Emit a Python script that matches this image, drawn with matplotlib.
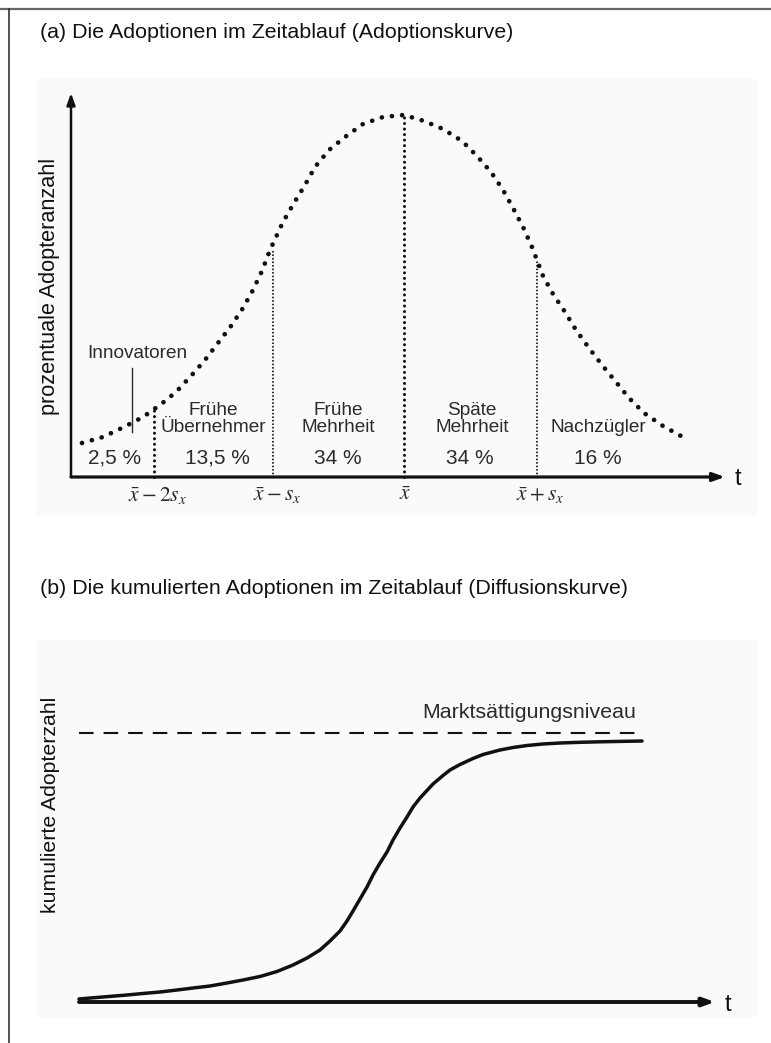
import matplotlib
matplotlib.use('Agg')
import matplotlib.pyplot as plt
from matplotlib import font_manager
from matplotlib.lines import Line2D

# font: narrow sans if present, otherwise regular
names = set(f.name for f in font_manager.fontManager.ttflist)
narrow = 'Liberation Sans Narrow' in names
plt.rcParams['font.family'] = ['Liberation Sans Narrow' if narrow else 'Liberation Sans', 'DejaVu Sans']
plt.rcParams['mathtext.fontset'] = 'stix'

# ---- (a) Adoptionskurve: time (arbitrary units) / relative adopter count
curve_t = [1.1, 3.2, 5.3, 7.2, 8.9, 10.5, 12.0, 13.4, 14.7, 16.0, 17.2, 18.2, 19.1, 19.9,
           21.2, 22.3, 23.4, 24.4, 25.8, 27.4, 29.2, 31.2, 33.3, 35.3, 37.2, 39.1, 40.6,
           42.0, 43.2, 44.2, 45.2, 46.1, 47.2, 48.2, 49.4, 50.5, 51.8, 53.1, 54.5, 55.8,
           57.3, 59.2, 61.0]
curve_y = [3.4, 4.0, 5.0, 6.0, 7.2, 8.5, 10.1, 11.7, 13.4, 15.1, 16.9, 18.7, 20.6, 22.7,
           25.5, 27.4, 29.2, 31.0, 32.7, 34.0, 35.3, 36.0, 36.2, 35.6, 34.8, 33.6, 32.1,
           30.5, 28.7, 26.9, 25.0, 23.0, 20.1, 18.3, 16.5, 14.7, 12.9, 11.2, 9.5, 7.9,
           6.4, 5.1, 4.1]

bounds_t = [8.3, 20.2, 33.3, 46.6]
bounds_top = [6.9, 22.7, 36.2, 21.7]
bounds_lw = [2.2, 1.4, 2.2, 1.4]
bound_labels = [r'$\bar{x}-2s_x$', r'$\bar{x}-s_x$', r'$\bar{x}$', r'$\bar{x}+s_x$']
bound_label_t = [8.6, 20.6, 33.4, 46.9]

groups = ['', 'Frühe\nÜbernehmer', 'Frühe\nMehrheit', 'Späte\nMehrheit', 'Nachzügler']
group_t = [4.4, 14.2, 26.7, 40.1, 52.7]
group_y = [5.8, 5.8, 5.8, 5.8, 4.9]
shares = ['2,5 %', '13,5 %', '34 %', '34 %', '16 %']
share_t = [4.4, 14.6, 26.7, 39.9, 52.7]

# ---- (b) Diffusionskurve: time / cumulated adopters
cum_t = [0.0, 1.4, 3.1, 4.8, 6.4, 8.1, 9.8, 11.4, 13.1, 14.8, 16.4, 18.1, 19.8, 21.4,
         22.8, 24.1, 25.1, 26.1, 26.8, 27.4, 28.1, 28.8, 29.4, 30.1, 30.8, 31.4, 32.1,
         32.8, 33.4, 34.1, 35.4, 36.4, 37.1, 38.1, 39.4, 40.4, 42.1, 43.4, 44.8, 46.4,
         48.1, 50.1, 52.1, 54.1, 56.3]
cum_y = [0.3, 0.42, 0.56, 0.7, 0.85, 1.0, 1.2, 1.4, 1.6, 1.9, 2.2, 2.55, 3.05, 3.7,
         4.4, 5.2, 6.1, 7.1, 8.1, 9.1, 10.3, 11.5, 12.7, 13.9, 15.0, 16.2, 17.4,
         18.5, 19.5, 20.4, 21.8, 22.65, 23.2, 23.75, 24.35, 24.75, 25.2, 25.45, 25.65, 25.8,
         25.9, 25.97, 26.02, 26.06, 26.1]
saturation = 26.9
saturation_end = 56.3

W, H = 771, 1043
fig = plt.figure(figsize=(W / 100, H / 100), dpi=100)
fig.patch.set_facecolor('white')

ink = '#111111'
grey = '#2b2b2b'


def px_axes(x0, y0, x1, y1, ox, oy):
    # axes covering a pixel box, 10 px per data unit, origin at (ox, oy)
    ax = fig.add_axes([x0 / W, 1 - y1 / H, (x1 - x0) / W, (y1 - y0) / H])
    ax.set_xlim((x0 - ox) / 10, (x1 - ox) / 10)
    ax.set_ylim((oy - y1) / 10, (oy - y0) / 10)
    ax.set_facecolor('#fafafa')
    for s in ax.spines.values():
        s.set_visible(False)
    ax.set_xticks([])
    ax.set_yticks([])
    return ax


def arrow_axes(ax, xmax, ymax, lw_x, lw_y):
    ax.annotate('', xy=(xmax, 0), xytext=(0, 0),
                arrowprops=dict(arrowstyle='-|>,head_length=0.7,head_width=0.25',
                                lw=lw_x, color=ink, shrinkA=0, shrinkB=0))
    ax.annotate('', xy=(0, ymax), xytext=(0, 0),
                arrowprops=dict(arrowstyle='-|>,head_length=0.7,head_width=0.25',
                                lw=lw_y, color=ink, shrinkA=0, shrinkB=0))


# ---------------- panel (a)
ax = px_axes(36, 79, 757, 515, 71, 477)
arrow_axes(ax, 65.4, 38.4, 2.3, 1.8)
ax.plot(curve_t, curve_y, color=ink, lw=3.4, linestyle=(0, (0.01, 2.15)),
        dash_capstyle='round', solid_capstyle='round')
for bt, top, lw in zip(bounds_t, bounds_top, bounds_lw):
    ax.plot([bt, bt], [0, top], color=ink, lw=lw, linestyle=(0, (0.01, 1.8)),
            dash_capstyle='round')
for lab, lt in zip(bound_labels, bound_label_t):
    ax.text(lt, -1.8, lab, ha='center', va='center', fontsize=15.5, color=grey)
for g, gt, gy in zip(groups, group_t, group_y):
    ax.text(gt, gy, g, ha='center', va='center', fontsize=13.7, color=grey,
            linespacing=0.95)
for s, st in zip(shares, share_t):
    ax.text(st, 1.9, s, ha='center', va='center', fontsize=15, color=grey)
ax.text(6.6, 12.4, 'Innovatoren', ha='center', va='center', fontsize=13.7, color=grey)
ax.plot([6.1, 6.1], [4.5, 10.9], color=grey, lw=1.0)
ax.text(66.7, -0.2, 't', ha='center', va='center', fontsize=17, color=ink)

# ---------------- panel (b)
bx = px_axes(36, 640, 757, 1017, 79, 1002)
arrow_axes(bx, 63.6, 37.2, 2.8, 1.8)
bx.plot(cum_t, cum_y, color=ink, lw=2.5, solid_capstyle='round', solid_joinstyle='round')
bx.plot([0, saturation_end], [saturation, saturation], color=ink, lw=1.5,
        linestyle=(0, (7, 4.8)))
bx.text(45.0, 29.0, 'Marktsättigungsniveau', ha='center', va='center',
        fontsize=15.4, color=grey)
bx.text(64.9, -0.3, 't', ha='center', va='center', fontsize=17, color=ink)

# ---------------- titles and axis labels
fs_title = 18.5 if narrow else 15.4
fig.text(40 / W, 1 - 33 / H, '(a) Die Adoptionen im Zeitablauf (Adoptionskurve)',
         ha='left', va='center', fontsize=fs_title, color=ink)
fig.text(40 / W, 1 - 589 / H, '(b) Die kumulierten Adoptionen im Zeitablauf (Diffusionskurve)',
         ha='left', va='center', fontsize=fs_title, color=ink)
fig.text(50 / W, 1 - 286 / H, 'prozentuale Adopteranzahl', rotation=90,
         ha='center', va='center', fontsize=15.6, color=ink)
fig.text(50 / W, 1 - 805 / H, 'kumulierte Adopterzahl', rotation=90,
         ha='center', va='center', fontsize=15.3, color=ink)

# frame lines of the scanned page
fig.add_artist(Line2D([0, 1], [1 - 9 / H, 1 - 9 / H], color='#666666', lw=1.6))
fig.add_artist(Line2D([9 / W, 9 / W], [0, 1 - 9 / H], color='#333333', lw=1.2))

fig.savefig('out.png', dpi=100, facecolor='white')
